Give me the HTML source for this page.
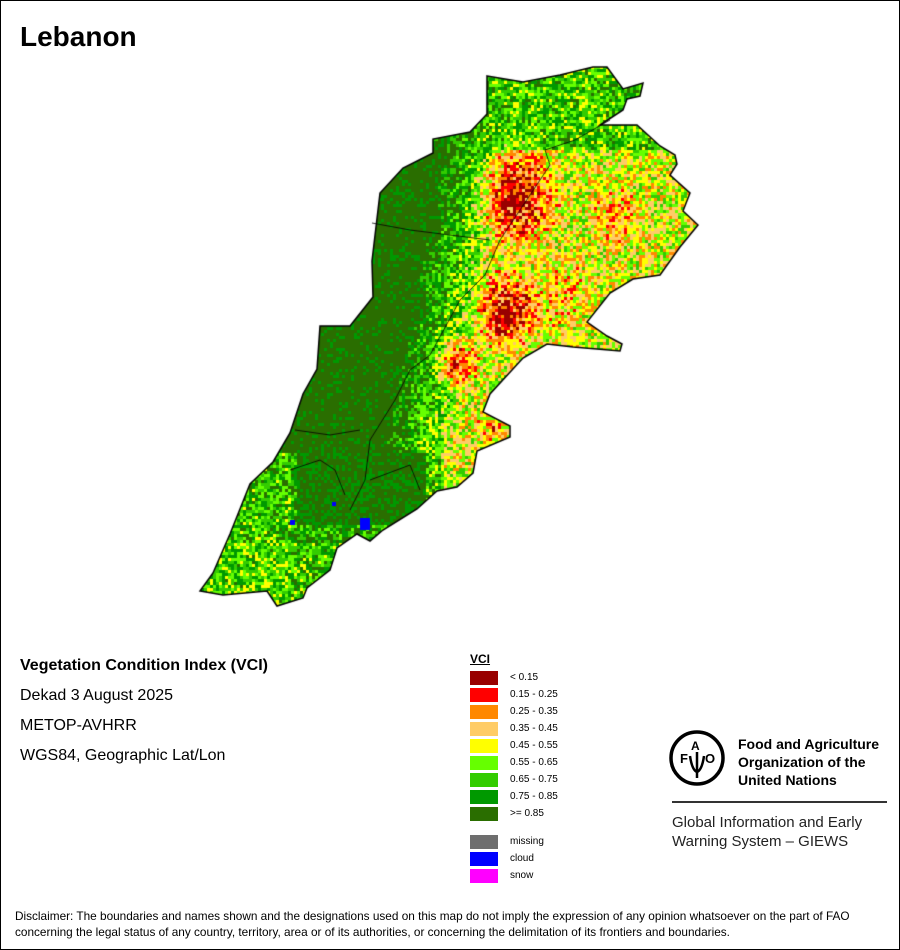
<!DOCTYPE html>
<html><head><meta charset="utf-8"><style>
body{margin:0;width:900px;height:950px;position:relative;background:#fff;font-family:"Liberation Sans",sans-serif;overflow:hidden}
#frame{position:absolute;left:0;top:0;width:898px;height:948px;border:1px solid #000}
.t{position:absolute;white-space:nowrap;color:#000}
.sw{position:absolute;left:470px;width:28px;height:14px}
.lb{position:absolute;left:510px;font-size:10px}
</style></head><body>
<div id="frame"></div>
<div class="t" style="left:20px;top:21px;font-size:28px;font-weight:bold">Lebanon</div>
<canvas id="c" width="900" height="640" style="position:absolute;left:0;top:0"></canvas>
<div class="t" style="left:20px;top:657px;font-size:16px;font-weight:bold">Vegetation Condition Index (VCI)</div>
<div class="t" style="left:20px;top:687px;font-size:16px">Dekad 3 August 2025</div>
<div class="t" style="left:20px;top:717px;font-size:16px">METOP-AVHRR</div>
<div class="t" style="left:20px;top:747px;font-size:16px">WGS84, Geographic Lat/Lon</div>
<div class="t" style="left:470px;top:652px;font-size:12px;font-weight:bold;text-decoration:underline">VCI</div>
<div class="sw" style="top:671px;background:#990000"></div><div class="lb" style="top:672px">&lt; 0.15</div>
<div class="sw" style="top:688px;background:#ff0000"></div><div class="lb" style="top:689px">0.15 - 0.25</div>
<div class="sw" style="top:705px;background:#ff8800"></div><div class="lb" style="top:706px">0.25 - 0.35</div>
<div class="sw" style="top:722px;background:#ffcc66"></div><div class="lb" style="top:723px">0.35 - 0.45</div>
<div class="sw" style="top:739px;background:#ffff00"></div><div class="lb" style="top:740px">0.45 - 0.55</div>
<div class="sw" style="top:756px;background:#66ff00"></div><div class="lb" style="top:757px">0.55 - 0.65</div>
<div class="sw" style="top:773px;background:#33cc00"></div><div class="lb" style="top:774px">0.65 - 0.75</div>
<div class="sw" style="top:790px;background:#009900"></div><div class="lb" style="top:791px">0.75 - 0.85</div>
<div class="sw" style="top:807px;background:#2a6e00"></div><div class="lb" style="top:808px">&gt;= 0.85</div>
<div class="sw" style="top:835px;background:#6e6e6e"></div><div class="lb" style="top:836px">missing</div>
<div class="sw" style="top:852px;background:#0000ff"></div><div class="lb" style="top:853px">cloud</div>
<div class="sw" style="top:869px;background:#ff00ff"></div><div class="lb" style="top:870px">snow</div>
<svg style="position:absolute;left:668px;top:728px" width="60" height="60">
<circle cx="29" cy="30" r="26" fill="none" stroke="#000" stroke-width="3.5"/>
<text x="12" y="35" font-size="13" font-weight="bold" font-family="Liberation Sans">F</text>
<text x="23" y="22" font-size="12" font-weight="bold" font-family="Liberation Sans">A</text>
<text x="37" y="35" font-size="13" font-weight="bold" font-family="Liberation Sans">O</text>
<path d="M29 24 L29 50 M22 28 Q24 42 29 44 M36 28 Q34 42 29 44" stroke="#000" stroke-width="2.5" fill="none"/>
</svg>
<div class="t" style="left:738px;top:735px;font-size:14px;font-weight:bold;line-height:18px">Food and Agriculture<br>Organization of the<br>United Nations</div>
<div style="position:absolute;left:672px;top:801px;width:215px;height:2px;background:#333"></div>
<div class="t" style="left:672px;top:813px;font-size:15px;line-height:19px;color:#222">Global Information and Early<br>Warning System – GIEWS</div>
<div class="t" style="left:15px;top:908px;font-size:11.8px;line-height:16px">Disclaimer: The boundaries and names shown and the designations used on this map do not imply the expression of any opinion whatsoever on the part of FAO<br>concerning the legal status of any country, territory, area or of its authorities, or concerning the delimitation of its frontiers and boundaries.</div>
<script>
var P=[[487,76],[523,82],[560,75],[593,67],[607,67],[623,89],[643,83],[640,96],[627,99],[623,110],[600,125],[637,125],[660,146],[675,155],[677,164],[670,175],[690,193],[683,211],[698,225],[680,247],[660,275],[633,279],[610,293],[587,322],[607,336],[622,344],[620,351],[573,347],[547,344],[523,358],[490,394],[483,412],[510,426],[510,437],[477,451],[473,473],[457,487],[437,491],[417,509],[383,530],[370,541],[357,534],[337,548],[330,570],[307,588],[303,598],[277,606],[267,591],[223,595],[200,591],[213,573],[230,534],[250,484],[273,462],[290,433],[303,394],[317,369],[320,326],[350,326],[373,297],[372,261],[380,193],[403,168],[433,153],[433,139],[470,132],[487,114]];
var c=document.getElementById('c').getContext('2d');
function path(){c.beginPath();c.moveTo(P[0][0],P[0][1]);for(var i=1;i<P.length;i++)c.lineTo(P[i][0],P[i][1]);c.closePath();}
var seed=7;function r(){seed=(seed*16807)%2147483647;return seed/2147483647;}
var cols=['#990000','#ff0000','#ff8800','#ffcc66','#ffff00','#66ff00','#33cc00','#009900','#2a6e00'];
var blobs=[[515,195,32,0.4],[505,310,24,0.4],[455,360,16,0.4],[615,215,20,0.2],[560,290,30,0.12],[490,425,12,0.2]];
c.save();path();c.clip();
for(var y=60;y<612;y+=3)for(var x=195;x<705;x+=3){
 var xb=440-(y-170)*55/280;
 var s=x-xb;
 var v=0.9-0.006*Math.max(0,s);
 if(v<0.5)v=0.5;
 var nz=(s<0)?0.16:0.42;
 if(y<150){v=Math.max(v,0.7);nz=0.4;}
 if(y>450&&x<440){
   if(x>295&&x<425&&y<525){v=0.88;nz=0.25;}
   else{v=0.78-(x>400?0.06:0)-(x<290?0.06:0)-(y>540?0.06:0);nz=0.4;}
 }
 for(var b=0;b<blobs.length;b++){var B=blobs[b];var d=Math.hypot(x-B[0],(y-B[1])*0.8);if(d<B[2]*1.6)v-=B[3]*Math.max(0,1-d/(B[2]*1.6));}
 v+=(r()-0.5)*nz;
 var k=Math.floor((v-0.05)/0.1);if(k<0)k=0;if(k>8)k=8;
 c.fillStyle=cols[k];c.fillRect(x,y,3,3);
}
c.fillStyle='#0000ff';c.fillRect(360,518,10,12);c.fillRect(290,520,5,5);c.fillRect(332,502,4,4);
c.restore();
path();c.strokeStyle='#000';c.lineWidth=1.5;c.stroke();
c.lineWidth=0.8;c.beginPath();
c.moveTo(610,120);c.lineTo(575,140);c.lineTo(545,150);c.lineTo(550,165);c.lineTo(520,210);c.lineTo(500,240);c.lineTo(485,275);c.lineTo(460,300);c.lineTo(430,355);c.lineTo(410,370);c.lineTo(395,400);c.lineTo(370,440);c.lineTo(365,480);c.lineTo(350,510);
c.moveTo(372,223);c.lineTo(410,230);c.lineTo(450,235);c.lineTo(490,240);
c.moveTo(295,430);c.lineTo(330,435);c.lineTo(360,430);
c.moveTo(290,470);c.lineTo(320,460);c.lineTo(335,470);c.lineTo(345,495);
c.moveTo(370,480);c.lineTo(410,465);c.lineTo(420,490);
c.stroke();
</script>
</body></html>
